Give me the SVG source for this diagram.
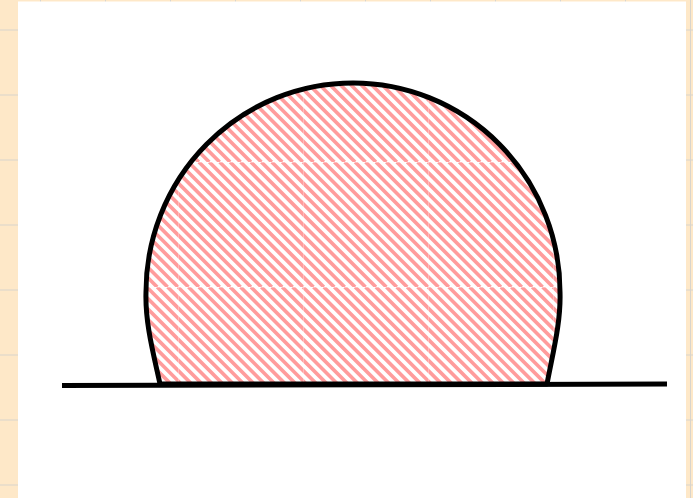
<svg xmlns="http://www.w3.org/2000/svg" width="693" height="498" viewBox="0 0 693 498">
  <defs>
    <pattern id="grid" x="40" y="29.5" width="65" height="65" patternUnits="userSpaceOnUse">
      <rect width="65" height="65" fill="#fee8c8"/>
      <path d="M0,0 H65 M0,0 V65" stroke="#d8d4cc" stroke-width="2" fill="none"/>
    </pattern>
    <pattern id="hatch" x="53" y="37" width="125" height="125" patternUnits="userSpaceOnUse">
      <rect width="125" height="125" fill="#ffffff"/>
      <g stroke="#ff9c9c" stroke-width="3.6" fill="none">
        <path d="M-125,0 L0,125 M-114.58,0 L10.42,125 M-104.17,0 L20.83,125 M-93.75,0 L31.25,125 M-83.33,0 L41.67,125 M-72.92,0 L52.08,125 M-62.5,0 L62.5,125 M-52.08,0 L72.92,125 M-41.67,0 L83.33,125 M-31.25,0 L93.75,125 M-20.83,0 L104.17,125 M-10.42,0 L114.58,125 M0,0 L125,125 M10.42,0 L135.42,125 M20.83,0 L145.83,125 M31.25,0 L156.25,125 M41.67,0 L166.67,125 M52.08,0 L177.08,125 M62.5,0 L187.5,125 M72.92,0 L197.92,125 M83.33,0 L208.33,125 M93.75,0 L218.75,125 M104.17,0 L229.17,125 M114.58,0 L239.58,125 M125,0 L250,125"/>
      </g>
      <path d="M0,0.5 H125 M0.5,0 V125" stroke="#ffffff" stroke-width="1" stroke-opacity="0.3" fill="none"/>
    </pattern>
  </defs>
  <style>
    .outline { stroke: #000000; stroke-width: 5; fill: url(#hatch); stroke-linejoin: round; }
    .base { stroke: #000000; stroke-width: 5; fill: none; }
  </style>
  <rect x="0" y="0" width="693" height="498" fill="url(#grid)"/>
  <rect x="18" y="1.5" width="668" height="497" fill="#ffffff"/>
  <g id="dome">
    <path class="outline" d="M160,384 C153,352 145,322 146,292 A207,209 0 0 1 560,292 C561,322 553,352 547,384 Z"/>
  </g>
  <g id="connectors">
    <line class="base" x1="62" y1="385.5" x2="667" y2="384"/>
  </g>
</svg>
